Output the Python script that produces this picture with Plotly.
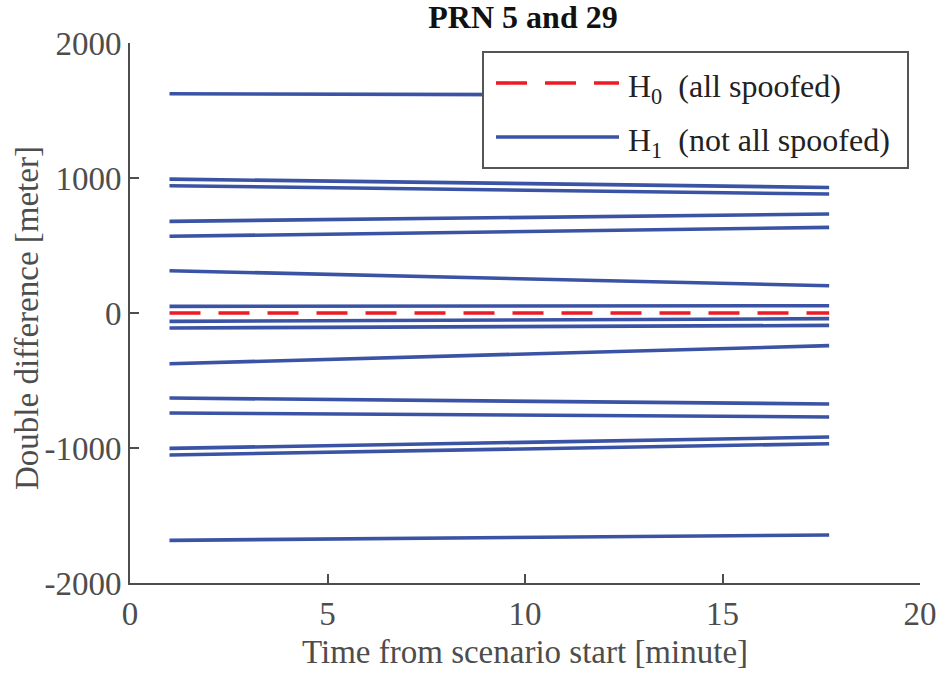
import plotly.graph_objects as go

# Data
time_min = [1.0, 17.7]
h0_values = [0, 0]
h1_start = [1624, 992, 943, 679, 568, 313, 49, -62, -111, -376, -630, -741, -1003, -1052, -1684]
h1_end = [1612, 930, 881, 733, 634, 202, 54, -42, -92, -242, -674, -770, -919, -968, -1644]
x_ticks = [0, 5, 10, 15, 20]
y_ticks = [-2000, -1000, 0, 1000, 2000]
y_tick_text = ["-2000", "-1000", "0", "1000", "2000"]

BLUE = "#3a53a4"
RED = "#ec1c24"
AX = "#4d4d4d"
FONT = "Liberation Serif"

fig = go.Figure()
for s, e in zip(h1_start, h1_end):
    fig.add_trace(go.Scatter(x=time_min, y=[s, e], mode="lines",
                             line=dict(color=BLUE, width=3.6), showlegend=False))
fig.add_trace(go.Scatter(x=time_min, y=h0_values, mode="lines",
                         line=dict(color=RED, width=3.6, dash="31px,18px"), showlegend=False))

L, R, T, B = 130, 18, 43, 90
W, H = 938, 673
pw, ph = W - L - R, H - T - B

def px(x):
    return (x - L) / pw

def py(y):
    return (H - B - y) / ph

fig.update_layout(
    width=W, height=H,
    margin=dict(l=L, r=R, t=T, b=B, autoexpand=False),
    paper_bgcolor="white", plot_bgcolor="white",
    font=dict(family=FONT, size=33, color=AX),
    title=dict(text="<b>PRN 5 and 29</b>", xref="container", x=523 / W, xanchor="center",
               yref="container", y=1 - 17 / H, yanchor="middle",
               font=dict(size=32, color="#111111")),
    xaxis=dict(range=[0, 20], tickvals=x_ticks, ticks="inside", ticklen=9, tickwidth=2,
               tickcolor=AX, showline=True, linecolor=AX, linewidth=2, showgrid=False,
               zeroline=False, tickfont=dict(size=33, color=AX), automargin=False),
    yaxis=dict(range=[-2000, 2000], tickvals=y_ticks, ticktext=y_tick_text, ticks="inside",
               ticklen=9, tickwidth=2, tickcolor=AX, showline=True, linecolor=AX, linewidth=2,
               showgrid=False, zeroline=False, tickfont=dict(size=33, color=AX), automargin=False),
)

# axis titles
fig.add_annotation(xref="paper", yref="paper", x=px(525), y=py(652), xanchor="center",
                   yanchor="middle", showarrow=False, text="Time from scenario start [minute]",
                   font=dict(size=33, color=AX))
fig.add_annotation(xref="paper", yref="paper", x=px(27), y=py(318), xanchor="center",
                   yanchor="middle", showarrow=False, text="Double difference [meter]",
                   textangle=-90, font=dict(size=33, color=AX))

# manual legend (box, samples, labels)
fig.add_shape(type="rect", xref="paper", yref="paper",
              x0=px(483), x1=px(908), y0=py(168), y1=py(52),
              line=dict(color="#555555", width=2), fillcolor="white", layer="above")
fig.add_shape(type="line", xref="paper", yref="paper",
              x0=px(496), x1=px(619), y0=py(83), y1=py(83),
              line=dict(color=RED, width=3.6, dash="31px,18px"), layer="above")
fig.add_shape(type="line", xref="paper", yref="paper",
              x0=px(496), x1=px(619), y0=py(137), y1=py(137),
              line=dict(color=BLUE, width=3.6), layer="above")
fig.add_annotation(xref="paper", yref="paper", x=px(626), y=py(88), xanchor="left",
                   yanchor="middle", showarrow=False, text="H<sub>0</sub>  (all spoofed)",
                   font=dict(size=32, color="#222222"))
fig.add_annotation(xref="paper", yref="paper", x=px(626), y=py(142), xanchor="left",
                   yanchor="middle", showarrow=False, text="H<sub>1</sub>  (not all spoofed)",
                   font=dict(size=32, color="#222222"))

fig.write_html("out.html")
